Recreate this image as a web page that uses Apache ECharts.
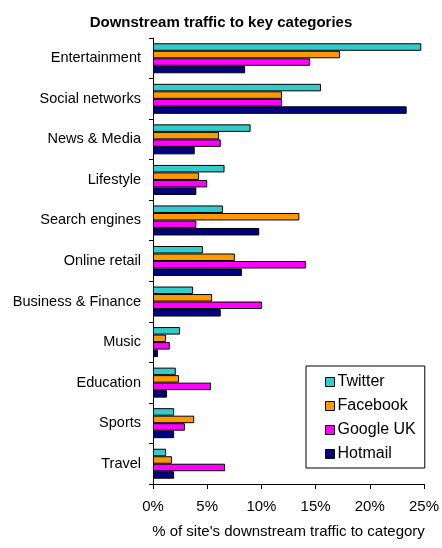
<!doctype html>
<html>
	<head>
		<meta charset="utf-8">
		<script src="https://cdn.jsdelivr.net/npm/echarts@6/dist/echarts.min.js"></script>
		<title>Downstream traffic</title>
		<style>
			html, body { margin: 0; padding: 0; background: #fff; }
			#chart { width: 442px; height: 548px; }
		</style>
	</head>
	<body>
		<div id="chart"></div>
		<script>
		var categories = ['Entertainment', 'Social networks', 'News & Media', 'Lifestyle', 'Search engines',
			'Online retail', 'Business & Finance', 'Music', 'Education', 'Sports', 'Travel']

		var twitter  = [24.75, 15.5, 9.0, 6.6, 6.45, 4.6, 3.7, 2.5, 2.1, 1.95, 1.2]
		var facebook = [17.25, 11.9, 6.1, 4.25, 13.5, 7.55, 5.45, 1.2, 2.4, 3.8, 1.75]
		var google   = [14.5, 11.9, 6.25, 5.0, 4.0, 14.1, 10.05, 1.55, 5.35, 2.95, 6.65]
		var hotmail  = [8.5, 23.4, 3.85, 4.0, 9.8, 8.2, 6.25, 0.45, 1.3, 1.95, 1.95]

		var seriesNames = ['Twitter', 'Facebook', 'Google UK', 'Hotmail']
		var seriesColors = ['#33cccc', '#ff9900', '#ff00ff', '#000080']
		var seriesData = [twitter, facebook, google, hotmail]

		var font = 'Arial, "Liberation Sans", sans-serif'

		var series = seriesData.map((d, i) => ({
			name: seriesNames[i],
			type: 'bar',
			data: d,
			barGap: '0%',
			barCategoryGap: '26%',
			itemStyle: { color: seriesColors[i], borderColor: '#000', borderWidth: 1 },
			emphasis: { disabled: true }
		}))

		var chart = echarts.init(document.getElementById('chart'))

		chart.setOption({
			animation: false,
			textStyle: { fontFamily: font },
			title: {
				text: 'Downstream traffic to key categories',
				left: 'center',
				top: 10,
				textStyle: { fontSize: 15, fontWeight: 'bold', color: '#000', fontFamily: font }
			},
			legend: {
				orient: 'vertical',
				left: 306,
				top: 366,
				padding: [8, 9, 6, 19],
				itemGap: 8,
				itemWidth: 9,
				itemHeight: 9,
				borderColor: '#000',
				borderWidth: 1,
				icon: 'rect',
				data: seriesNames.map((n, i) => ({ name: n, itemStyle: { borderColor: '#000', borderWidth: 1 } })),
				textStyle: { fontSize: 16, color: '#000', fontFamily: font, padding: [0, 0, 0, -2] }
			},
			grid: { left: 153, right: 18, top: 38, bottom: 64 },
			xAxis: {
				type: 'value',
				min: 0,
				max: 25,
				interval: 5,
				splitLine: { show: false },
				axisLine: { show: true, lineStyle: { color: '#000' } },
				axisTick: { show: true, length: 5, lineStyle: { color: '#000' } },
				axisLabel: { formatter: '{value}%', fontSize: 15, color: '#000', margin: 15 },
				name: "% of site's downstream traffic to category",
				nameLocation: 'middle',
				nameGap: 40,
				nameTextStyle: { fontSize: 15, color: '#000' }
			},
			yAxis: {
				type: 'category',
				data: categories,
				inverse: true,
				axisLine: { show: true, lineStyle: { color: '#000' } },
				axisTick: { show: true, length: 4, lineStyle: { color: '#000' } },
				axisLabel: { fontSize: 14.5, color: '#000', margin: 12 }
			},
			series: series
		})
		</script>
	</body>
</html>
